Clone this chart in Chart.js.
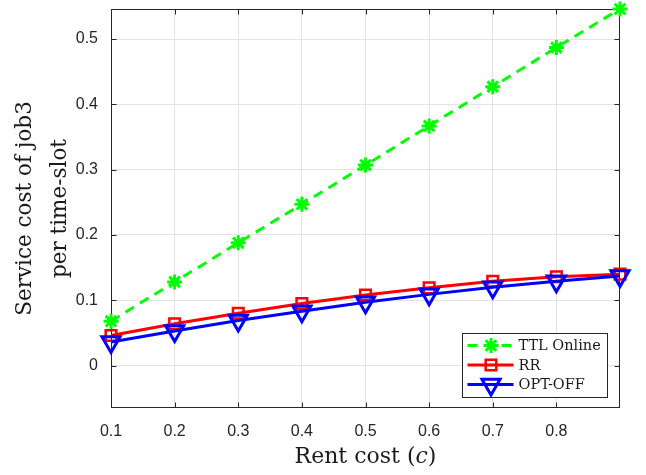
<!DOCTYPE html>
<html>
<head>
<meta charset="utf-8">
<script src="https://cdn.jsdelivr.net/npm/chart.js@4.4.1/dist/chart.umd.min.js"></script>
<style>
  html, body { margin: 0; padding: 0; background: #fff; }
  canvas { display: block; }
</style>
</head>
<body>
<canvas id="myChart" width="646" height="475"></canvas>
<script>
const rentCost = [0.1, 0.2, 0.3, 0.4, 0.5, 0.6, 0.7, 0.8, 0.9]
const ttlOnline = [0.068, 0.128, 0.188, 0.247, 0.307, 0.367, 0.427, 0.487, 0.546]
const rr = [0.046, 0.064, 0.080, 0.095, 0.108, 0.119, 0.129, 0.136, 0.140]
const optOff = [0.036, 0.053, 0.069, 0.083, 0.097, 0.109, 0.120, 0.129, 0.137]
const xTicks = [0.1, 0.2, 0.3, 0.4, 0.5, 0.6, 0.7, 0.8]
const xTickLabels = ['0.1', '0.2', '0.3', '0.4', '0.5', '0.6', '0.7', '0.8']
const yTicks = [0, 0.1, 0.2, 0.3, 0.4, 0.5]
const yTickLabels = ['0', '0.1', '0.2', '0.3', '0.4', '0.5']
const xMin = 0.1, xMax = 0.9
const yMin = -0.065, yMax = 0.546

const axisColor = '#262626'
const serif = "'DejaVu Serif', serif"
const sans = "'Liberation Sans', Arial, sans-serif"

const toPoints = (ys) => rentCost.map((x, i) => ({ x: x, y: ys[i] }))

// box round the plot area, with inward ticks on every side
const axesBox = {
  id: 'axesBox',
  beforeDatasetsDraw(chart) {
    const { ctx, chartArea: a, scales } = chart
    const L = Math.round(a.left) + 0.5, R = Math.round(a.right) - 0.5
    const T = Math.round(a.top) + 0.5, B = Math.round(a.bottom) - 0.5
    ctx.save()
    ctx.strokeStyle = axisColor
    ctx.lineWidth = 1
    ctx.strokeRect(L, T, R - L, B - T)
    ctx.beginPath()
    xTicks.forEach(v => {
      const px = Math.round(scales.x.getPixelForValue(v)) + 0.5
      ctx.moveTo(px, B); ctx.lineTo(px, B - 5)
      ctx.moveTo(px, T); ctx.lineTo(px, T + 5)
    })
    yTicks.forEach(v => {
      const py = Math.round(scales.y.getPixelForValue(v)) + 0.5
      ctx.moveTo(L, py); ctx.lineTo(L + 5, py)
      ctx.moveTo(R, py); ctx.lineTo(R - 5, py)
    })
    ctx.stroke()
    ctx.restore()
  }
}

// legend in the lower right corner of the plot
const boxLegend = {
  id: 'boxLegend',
  afterDatasetsDraw(chart) {
    const { ctx, chartArea: a } = chart
    const w = 145, h = 64
    const x0 = Math.round(a.right - 13 - w) + 0.5
    const y0 = Math.round(a.bottom - 11 - h) + 0.5
    ctx.save()
    ctx.fillStyle = '#fff'
    ctx.fillRect(x0, y0, w, h)
    ctx.strokeStyle = axisColor
    ctx.lineWidth = 1
    ctx.strokeRect(x0, y0, w, h)
    chart.data.datasets.forEach((ds, i) => {
      const cy = y0 + 12 + i * 19.5
      ctx.save()
      ctx.strokeStyle = ds.borderColor
      ctx.lineWidth = ds.borderWidth
      ctx.setLineDash(ds.borderDash || [])
      ctx.beginPath()
      ctx.moveTo(x0 + 5, cy)
      ctx.lineTo(x0 + 51, cy)
      ctx.stroke()
      ctx.setLineDash([])
      ctx.fillStyle = 'rgba(0,0,0,0)'
      ctx.lineWidth = ds.pointBorderWidth
      Chart.helpers.drawPoint(ctx, {
        pointStyle: ds.pointStyle,
        rotation: ds.pointRotation || 0,
        radius: ds.pointRadius,
        borderWidth: ds.pointBorderWidth
      }, x0 + 28.5, cy)
      ctx.restore()
      ctx.fillStyle = '#1a1a1a'
      ctx.font = "14.5px " + serif
      ctx.textBaseline = 'middle'
      ctx.textAlign = 'left'
      ctx.fillText(ds.label, x0 + 56, cy + 1)
    })
    ctx.restore()
  }
}

// x title with an italic c
const xTitle = {
  id: 'xTitle',
  afterDraw(chart) {
    const { ctx, chartArea: a } = chart
    const parts = [['Rent cost (', 'normal'], ['c', 'italic'], [')', 'normal']]
    ctx.save()
    ctx.fillStyle = '#1a1a1a'
    ctx.textBaseline = 'alphabetic'
    ctx.textAlign = 'left'
    let total = 0
    parts.forEach(p => { ctx.font = p[1] + " 22px " + serif; total += ctx.measureText(p[0]).width })
    let x = (a.left + a.right) / 2 - total / 2
    parts.forEach(p => {
      ctx.font = p[1] + " 22px " + serif
      ctx.fillText(p[0], x, 463)
      x += ctx.measureText(p[0]).width
    })
    ctx.restore()
  }
}

const ctx = document.getElementById('myChart')

window.chart = new Chart(ctx, {
  type: 'line',
  data: {
    datasets: [{
      label: 'TTL Online',
      data: toPoints(ttlOnline),
      borderColor: '#00ff00',
      backgroundColor: 'rgba(0,0,0,0)',
      borderWidth: 3,
      borderDash: [10, 7],
      pointStyle: 'star',
      pointRadius: 7.5,
      pointBorderWidth: 3,
      pointBorderColor: '#00ff00',
      pointBackgroundColor: 'rgba(0,0,0,0)',
      clip: false,
      order: 2
    }, {
      label: 'RR',
      data: toPoints(rr),
      borderColor: '#ff0000',
      backgroundColor: 'rgba(0,0,0,0)',
      borderWidth: 3,
      pointStyle: 'rect',
      pointRadius: 7.5,
      pointBorderWidth: 2.5,
      pointBorderColor: '#ff0000',
      pointBackgroundColor: 'rgba(0,0,0,0)',
      clip: false,
      order: 1
    }, {
      label: 'OPT-OFF',
      data: toPoints(optOff),
      borderColor: '#0000ff',
      backgroundColor: 'rgba(0,0,0,0)',
      borderWidth: 3,
      pointStyle: 'triangle',
      pointRotation: 180,
      pointRadius: 10.5,
      pointBorderWidth: 3,
      pointBorderColor: '#0000ff',
      pointBackgroundColor: 'rgba(0,0,0,0)',
      clip: false,
      order: 0
    }]
  },
  options: {
    responsive: false,
    animation: false,
    events: [],
    layout: { autoPadding: false, padding: { top: 9, right: 26, left: 0, bottom: 0 } },
    plugins: {
      legend: { display: false },
      tooltip: { enabled: false }
    },
    scales: {
      x: {
        type: 'linear',
        min: xMin,
        max: xMax,
        afterBuildTicks: (scale) => { scale.ticks = xTicks.map(v => ({ value: v })) },
        afterFit: (scale) => {
          scale.height = 67
          scale.paddingLeft = 0
          scale.paddingRight = 0
        },
        grid: { color: '#e3e3e3', lineWidth: 1, drawTicks: false },
        border: { display: false },
        ticks: {
          padding: 14,
          color: axisColor,
          font: { family: sans, size: 16 },
          maxRotation: 0,
          callback: (v, i) => xTickLabels[i]
        }
      },
      y: {
        type: 'linear',
        min: yMin,
        max: yMax,
        afterBuildTicks: (scale) => { scale.ticks = yTicks.map(v => ({ value: v })) },
        afterFit: (scale) => {
          scale.width = 111
          scale.paddingTop = 0
          scale.paddingBottom = 0
        },
        grid: { color: '#e3e3e3', lineWidth: 1, drawTicks: false },
        border: { display: false },
        ticks: {
          padding: 13,
          color: axisColor,
          font: { family: sans, size: 16 },
          callback: (v, i) => yTickLabels[i]
        },
        title: {
          display: true,
          text: ['Service cost of job3', 'per time-slot'],
          color: '#1a1a1a',
          font: { family: serif, size: 21.5, lineHeight: 1.63 },
          padding: { top: 7.5, bottom: 0 }
        }
      }
    }
  },
  plugins: [axesBox, boxLegend, xTitle]
})
</script>
</body>
</html>
